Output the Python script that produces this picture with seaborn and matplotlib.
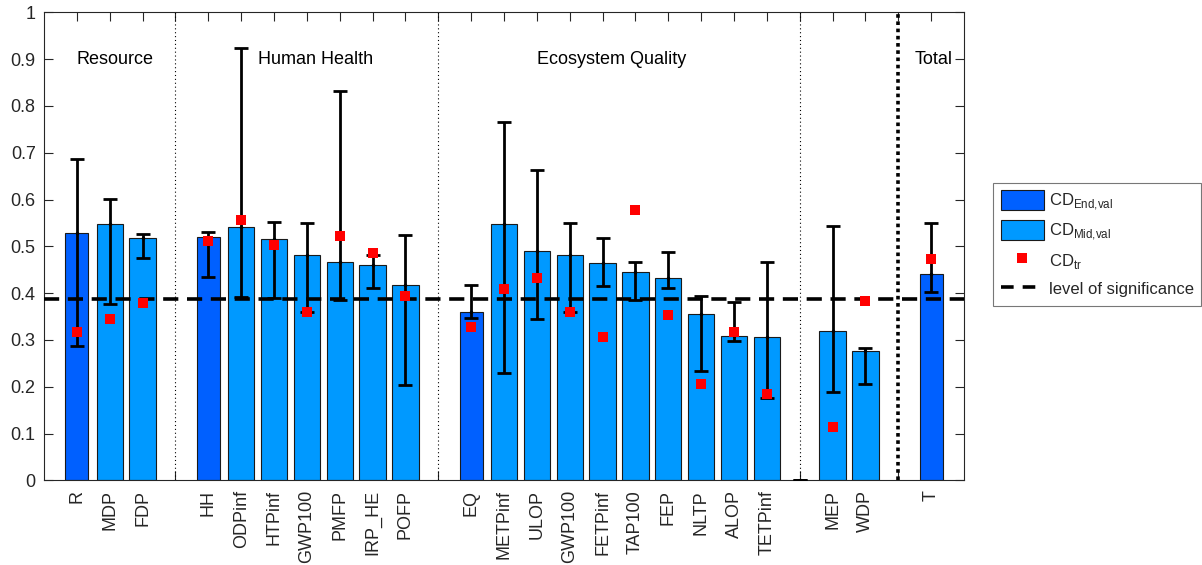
import numpy as np
import pandas as pd
import matplotlib
matplotlib.use("Agg")
import matplotlib.pyplot as plt
from matplotlib.patches import Patch
from matplotlib.lines import Line2D
import seaborn as sns

# ---- data -----------------------------------------------------------------
# '' marks a separator slot between impact groups
categories = ['R', 'MDP', 'FDP', '',
              'HH', 'ODPinf', 'HTPinf', 'GWP100', 'PMFP', 'IRP_HE', 'POFP', '',
              'EQ', 'METPinf', 'ULOP', 'GWP100', 'FETPinf', 'TAP100', 'FEP',
              'NLTP', 'ALOP', 'TETPinf', '',
              'MEP', 'WDP', '',
              'T']
level = ['End', 'Mid', 'Mid', 'sep',
         'End', 'Mid', 'Mid', 'Mid', 'Mid', 'Mid', 'Mid', 'sep',
         'End', 'Mid', 'Mid', 'Mid', 'Mid', 'Mid', 'Mid', 'Mid', 'Mid', 'Mid', 'sep',
         'Mid', 'Mid', 'sep',
         'End']
cd_val = [0.529, 0.547, 0.517, np.nan,
          0.519, 0.541, 0.516, 0.482, 0.467, 0.460, 0.418, np.nan,
          0.360, 0.548, 0.490, 0.482, 0.465, 0.446, 0.433, 0.356, 0.308, 0.307, 0.0,
          0.320, 0.277, np.nan,
          0.440]
err_low = [0.288, 0.377, 0.475, np.nan,
           0.434, 0.392, 0.390, 0.360, 0.385, 0.410, 0.203, np.nan,
           0.347, 0.230, 0.344, 0.360, 0.416, 0.385, 0.410, 0.234, 0.298, 0.176, 0.0,
           0.189, 0.205, np.nan,
           0.403]
err_high = [0.686, 0.601, 0.527, np.nan,
            0.530, 0.924, 0.551, 0.550, 0.831, 0.482, 0.525, np.nan,
            0.417, 0.766, 0.663, 0.550, 0.517, 0.467, 0.487, 0.394, 0.380, 0.466, 0.0,
            0.543, 0.283, np.nan,
            0.550]
cd_tr = [0.317, 0.344, 0.379, np.nan,
         0.511, 0.556, 0.503, 0.360, 0.521, 0.485, 0.393, np.nan,
         0.328, 0.409, 0.432, 0.360, 0.306, 0.578, 0.354, 0.206, 0.317, 0.185, np.nan,
         0.114, 0.384, np.nan,
         0.473]
significance = 0.388

group_names = ['Resource', 'Human Health', 'Ecosystem Quality', 'Total']
group_text_x = [1.0, 6.5, 15.0, 26.5]
ytick_values = [0, 0.1, 0.2, 0.3, 0.4, 0.5, 0.6, 0.7, 0.8, 0.9, 1]
ytick_labels = ['0', '0.1', '0.2', '0.3', '0.4', '0.5', '0.6', '0.7', '0.8', '0.9', '1']

# ---- styling ----------------------------------------------------------------
sns.set_theme(style='ticks')
plt.rcParams['font.family'] = ['Liberation Sans', 'DejaVu Sans']
plt.rcParams['font.size'] = 13
plt.rcParams['axes.linewidth'] = 0.8

END_COLOR = '#0060FF'
MID_COLOR = '#0099FF'
AX_COLOR = '#262626'

df = pd.DataFrame({
    'category': categories,
    'level': level,
    'cd': cd_val,
    'lo': err_low,
    'hi': err_high,
    'tr': cd_tr,
})
df['pos'] = np.arange(1, len(df) + 1)

fig = plt.figure(figsize=(12.02, 5.65), dpi=100)
ax = fig.add_axes([44 / 1202, 1 - 480.3 / 565, 920 / 1202, 468 / 565])

# bars: seaborn's native-scale width is relative to the smallest gap between positions
for lvl, color, rel_width in [('End', END_COLOR, 0.7), ('Mid', MID_COLOR, 0.8)]:
    sub = df[df['level'] == lvl]
    step = np.min(np.diff(sub['pos'].to_numpy()))
    sns.barplot(data=sub, x='pos', y='cd', native_scale=True,
                width=rel_width / step, color=color, saturation=1,
                edgecolor='#1a1a1a', linewidth=0.8, errorbar=None,
                ax=ax, zorder=2)

# separators between impact groups
sep_pos = df.loc[df['level'] == 'sep', 'pos'].to_numpy()
for p in sep_pos[:-1]:
    ax.axvline(p, color='black', linestyle=(0, (1, 2.5)), linewidth=0.8, zorder=1)
ax.axvline(sep_pos[-1], color='black', linestyle=(0, (1, 1)), linewidth=2.6, zorder=1)

# uncertainty ranges
has_err = df['lo'].notna()
e = df[has_err]
ax.errorbar(e['pos'], e['cd'],
            yerr=[e['cd'] - e['lo'], e['hi'] - e['cd']],
            fmt='.', color='black', markersize=3, elinewidth=2,
            capsize=5, capthick=2, zorder=4)

# significance threshold
ax.axhline(significance, color='black', linewidth=2.6,
           linestyle=(0, (4.2, 2.4)), zorder=5)

# CD_tr markers
t = df[df['tr'].notna()]
sns.scatterplot(x=t['pos'], y=t['tr'], marker='s', color='red', s=55,
                linewidth=0, ax=ax, zorder=6)

# group captions
for name, x in zip(group_names, group_text_x):
    ax.text(x, 0.9, name, ha='left', va='center', fontsize=13, color='black', zorder=7)

# axes
ax.set_xlim(0, len(df) + 1)
ax.set_ylim(0, 1)
ax.set_xticks(df['pos'])
ax.set_xticklabels(df['category'], rotation=90, fontsize=13)
ax.set_yticks(ytick_values)
ax.set_yticklabels(ytick_labels, fontsize=13)
ax.set_xlabel('')
ax.set_ylabel('')
ax.tick_params(direction='in', length=6.3, width=0.8, color=AX_COLOR,
               top=True, right=True, labelcolor=AX_COLOR)
ax.tick_params(axis='x', pad=7)
ax.tick_params(axis='y', pad=6)
for s in ax.spines.values():
    s.set_visible(True)
    s.set_color(AX_COLOR)
    s.set_linewidth(0.8)
ax.set_facecolor('white')
ax.grid(False)

# legend
handles = [
    Patch(facecolor=END_COLOR, edgecolor='#1a1a1a', linewidth=0.8),
    Patch(facecolor=MID_COLOR, edgecolor='#1a1a1a', linewidth=0.8),
    Line2D([], [], linestyle='none', marker='s', markersize=7.5,
           markerfacecolor='red', markeredgewidth=0),
    Line2D([], [], color='black', linewidth=2.6, linestyle=(0, (3.5, 2.5))),
]
labels = ['CD$_{\\mathregular{End{,}val}}$', 'CD$_{\\mathregular{Mid{,}val}}$',
          'CD$_{\\mathregular{tr}}$', 'level of significance']
leg = fig.legend(handles, labels, loc='upper left',
                 bbox_to_anchor=(993 / 1202, 1 - 183 / 565),
                 bbox_transform=fig.transFigure, borderaxespad=0,
                 frameon=True, fancybox=False, fontsize=12,
                 handlelength=2.6, handleheight=1.4, handletextpad=0.3,
                 labelspacing=0.5, borderpad=0.45)
leg.get_frame().set_edgecolor('#555555')
leg.get_frame().set_linewidth(0.8)

fig.savefig('out.png', dpi=100, facecolor='white')
